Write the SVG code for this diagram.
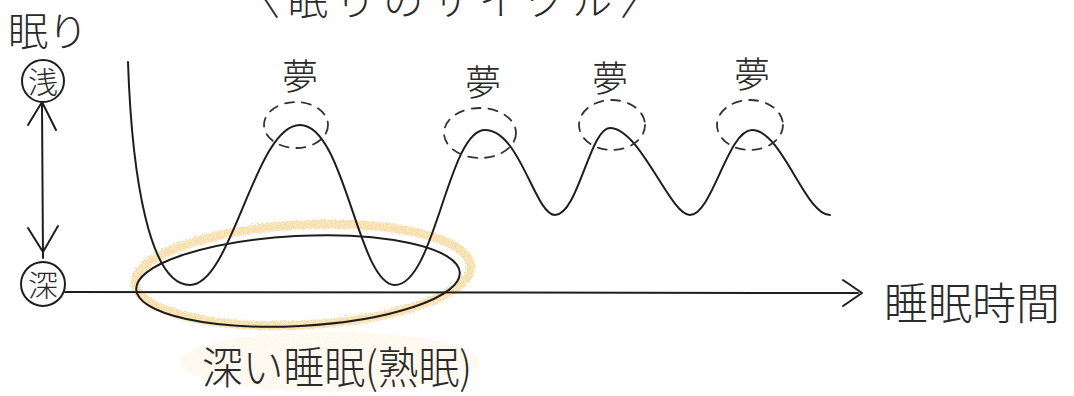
<svg xmlns="http://www.w3.org/2000/svg" width="1074" height="396" viewBox="0 0 1074 396">
<defs>
<style>
.t{font-family:"Noto Sans CJK JP","Noto Sans CJK SC",sans-serif;font-weight:300;fill:#2a2a2a}
.ln{fill:none;stroke:#1e1e1e;stroke-width:2;stroke-linecap:round;stroke-linejoin:round}
.dash{fill:none;stroke:#333;stroke-width:1.8;stroke-dasharray:9 8;stroke-linecap:round}
</style>
<filter id="crayon" x="-20%" y="-50%" width="140%" height="200%">
<feTurbulence type="fractalNoise" baseFrequency="0.9" numOctaves="2" seed="3" result="n"/>
<feDisplacementMap in="SourceGraphic" in2="n" scale="5" result="d"/>
<feComposite in="d" in2="n" operator="in"/>
</filter>
</defs>
<rect width="1074" height="396" fill="#fff"/>

<g id="title">
<text class="t" x="240" y="15" font-size="40" textLength="420" lengthAdjust="spacing">〈眠りのサイクル〉</text>
</g>

<g id="highlight" filter="url(#crayon)">
<ellipse cx="303" cy="275" rx="168" ry="50" transform="rotate(-3 303 275)" fill="none" stroke="#f2b13a" stroke-width="9" opacity="0.75"/>
<ellipse cx="330" cy="362" rx="150" ry="30" fill="#f7c96a" opacity="0.2"/>
</g>

<g id="y-axis">
<text class="t" x="8" y="46" font-size="40">眠り</text>
<g id="shallow">
<circle cx="43" cy="81" r="21" class="ln"/>
<text class="t" x="43" y="93" font-size="30" text-anchor="middle">浅</text>
</g>
<g id="deep">
<circle cx="43" cy="284" r="22" class="ln"/>
<text class="t" x="43" y="296" font-size="30" text-anchor="middle">深</text>
</g>
</g>

<g id="connectors">
<path class="ln" d="M42,104 L43,258"/>
<path class="ln" d="M28,125 L42,102 L56,130"/>
<path class="ln" d="M28,228 L43,252 L58,226"/>
<path class="ln" d="M65,292 L858,293"/>
<path class="ln" d="M843,280 L862,293 L843,306"/>
</g>

<g id="x-label">
<text class="t" x="884" y="320" font-size="44" textLength="176" lengthAdjust="spacingAndGlyphs">睡眠時間</text>
</g>

<g id="curve">
<path class="ln" d="M128,62 C132,180 150,285 190,285 C232,285 255,125 300,125 C345,125 358,285 395,285 C435,285 448,130 485,130 C520,130 535,215 555,215 C578,215 590,128 610,128 C640,128 670,215 690,215 C712,215 728,130 752,130 C782,130 805,215 830,215"/>
</g>

<g id="dreams">
<g id="dream1"><ellipse class="dash" cx="296" cy="125" rx="32" ry="23"/><text class="t" x="300" y="90" font-size="36" text-anchor="middle">夢</text></g>
<g id="dream2"><ellipse class="dash" cx="480" cy="133" rx="36" ry="25"/><text class="t" x="483" y="96" font-size="36" text-anchor="middle">夢</text></g>
<g id="dream3"><ellipse class="dash" cx="612" cy="125" rx="33" ry="25"/><text class="t" x="610" y="92" font-size="36" text-anchor="middle">夢</text></g>
<g id="dream4"><ellipse class="dash" cx="750" cy="125" rx="33" ry="25"/><text class="t" x="752" y="88" font-size="36" text-anchor="middle">夢</text></g>
</g>

<g id="deep-sleep">
<ellipse class="ln" cx="298" cy="281" rx="162" ry="45" transform="rotate(-3 298 281)"/>
<text class="t" x="202" y="384" font-size="44" textLength="270" lengthAdjust="spacingAndGlyphs">深い睡眠(熟眠)</text>
</g>
</svg>
